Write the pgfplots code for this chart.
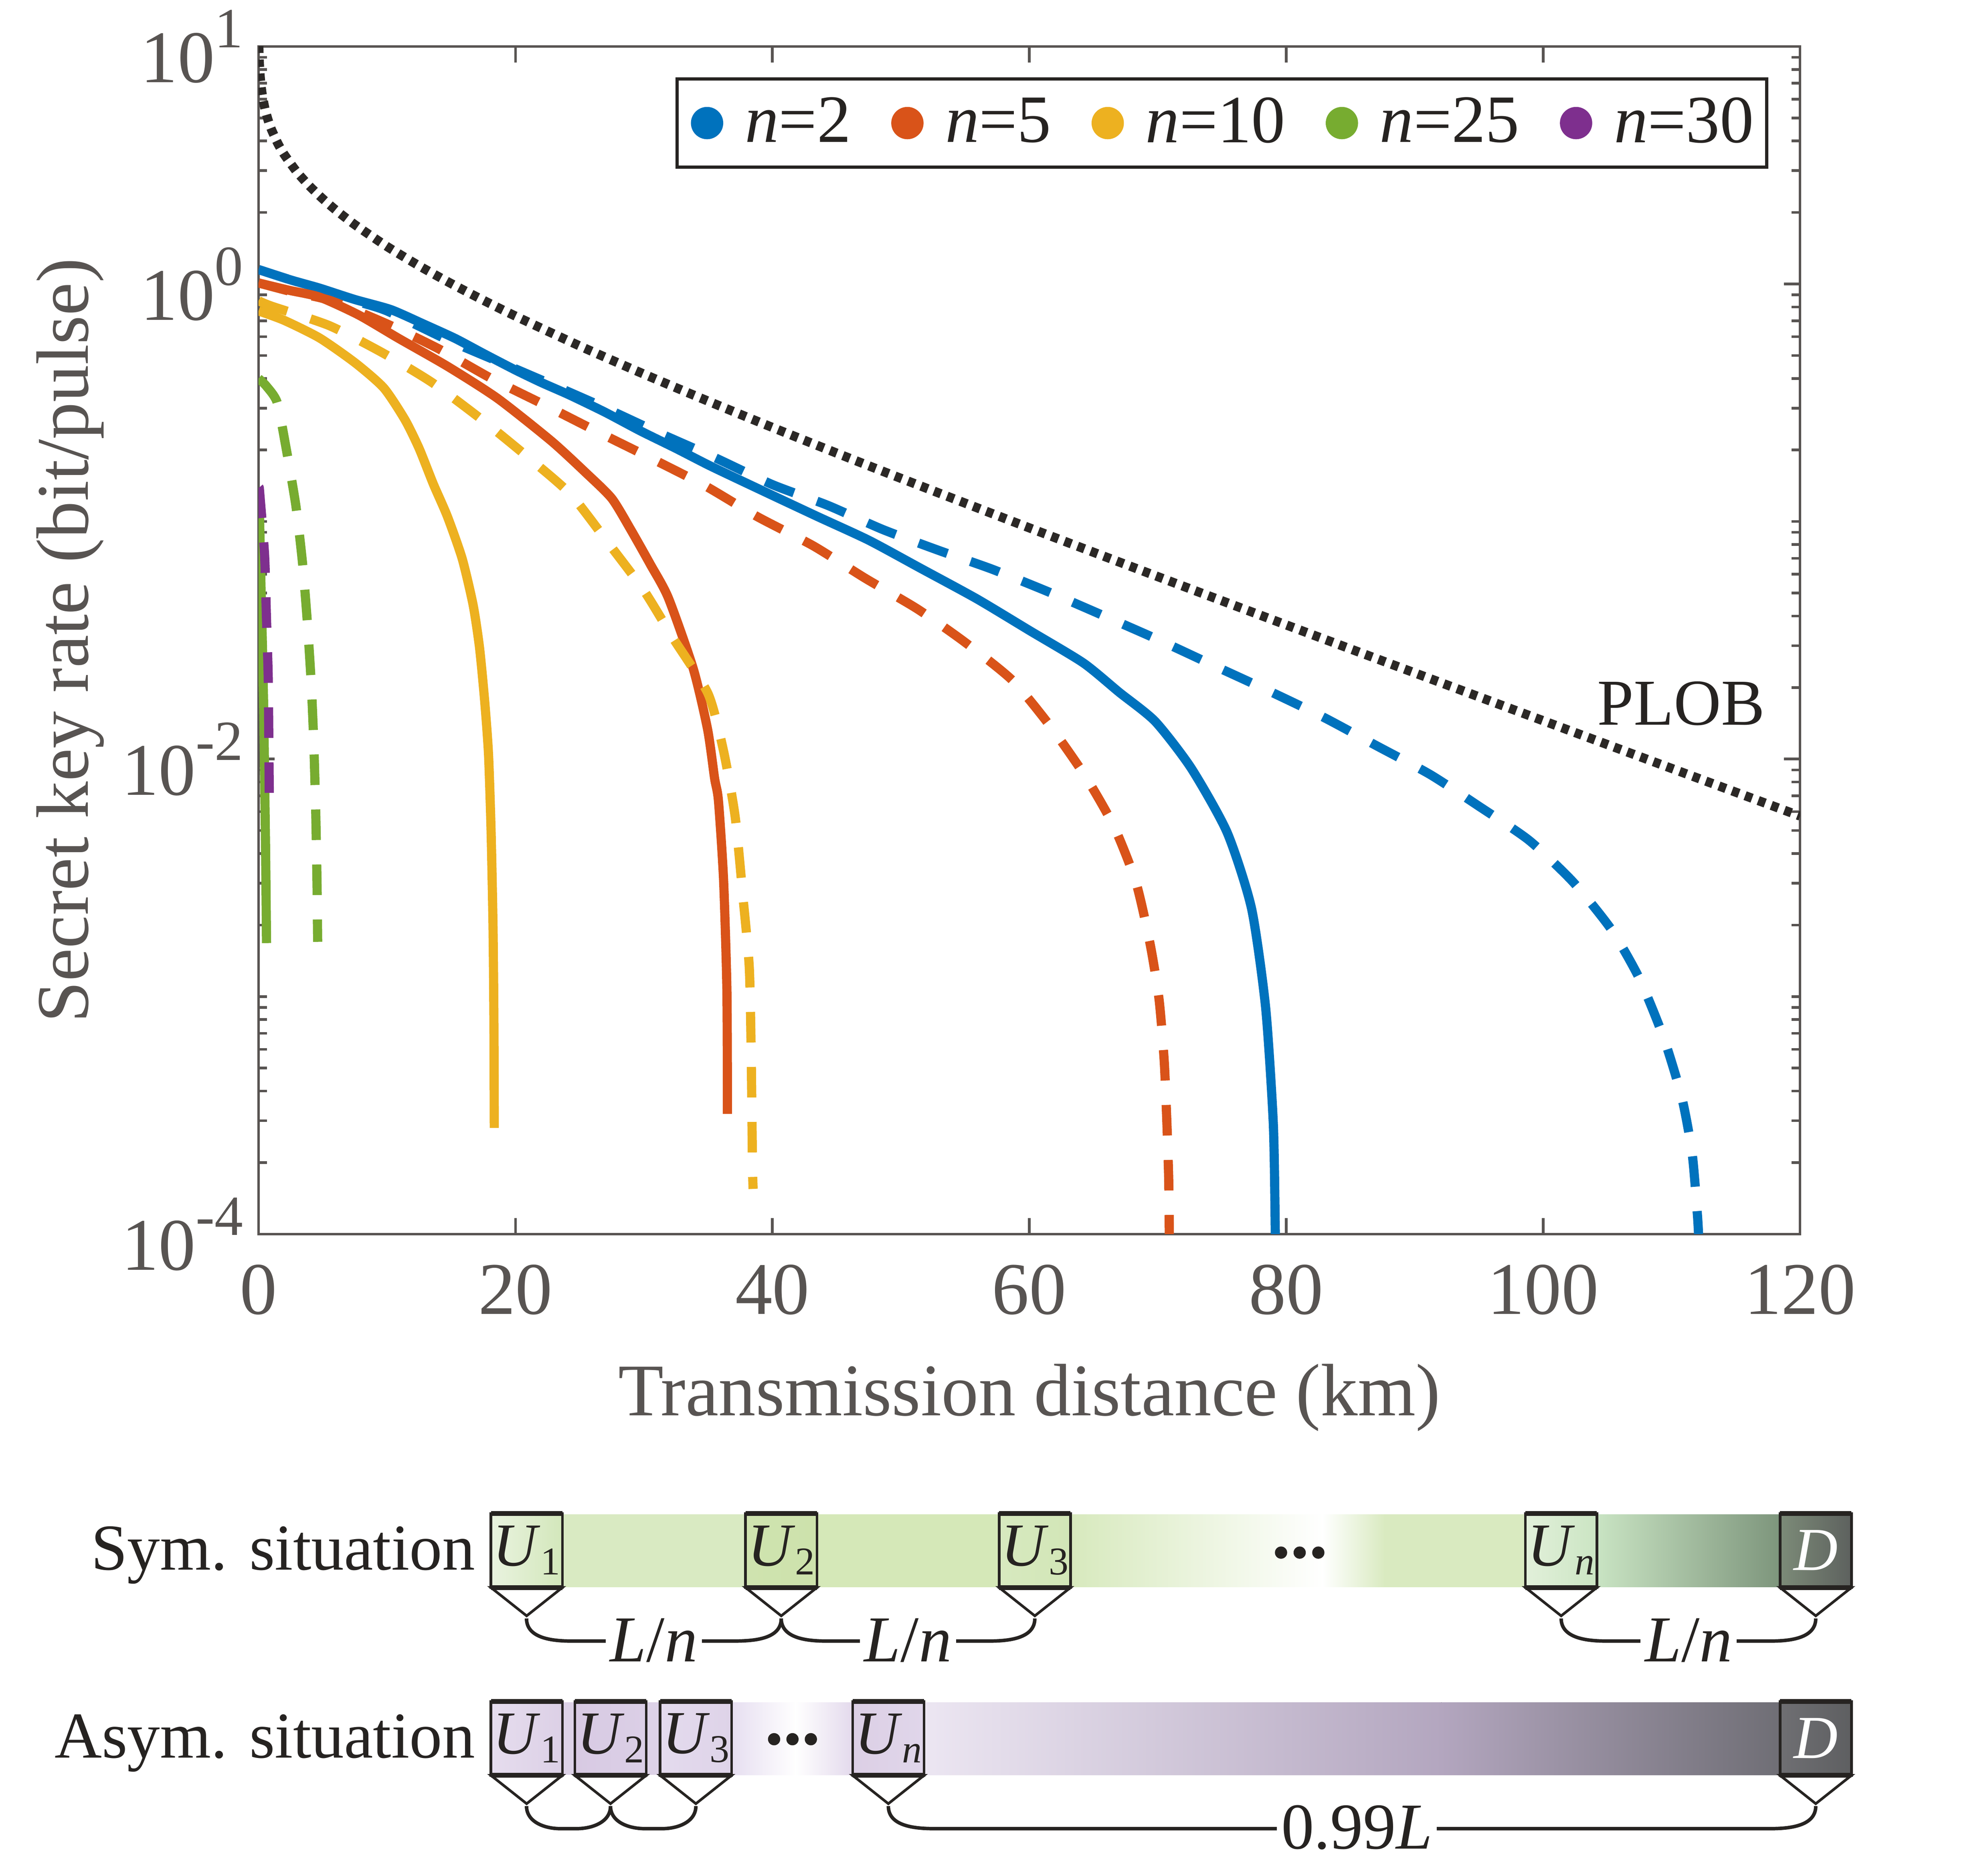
\documentclass[border=0pt]{standalone}
\usepackage{fontspec}
\setmainfont{Liberation Serif}
\usepackage{pgfplots}
\pgfplotsset{compat=1.18}
\newcommand{\fs}[1]{\fontsize{#1}{#1}\selectfont}
\definecolor{mlblue}{RGB}{0,114,189}
\definecolor{mlred}{RGB}{217,83,25}
\definecolor{mlyellow}{RGB}{237,177,32}
\definecolor{mlgreen}{RGB}{119,172,48}
\definecolor{mlpurple}{RGB}{126,47,142}
\definecolor{plobc}{RGB}{43,40,38}
\definecolor{axgray}{RGB}{88,84,82}
\definecolor{txtdark}{RGB}{38,35,33}
% diagram box: left x, bottom y, left colour, right colour, label, label colour
\newcommand{\ubox}[6]{%
  \fill[left color=#3, right color=#4] (#1,#2) rectangle ++(0.575,0.595);
  \draw[line width=0.6pt, txtdark] (#1,#2) rectangle ++(0.575,0.595);
  \draw[line width=1.1pt, txtdark] (#1,#2+0.595) -- ++(0.575,0);
  \draw[line width=0.6pt, txtdark, fill=white, line join=miter] (#1,#2) -- ++(0.575,0) -- ++(-0.2875,-0.228) -- cycle;
  \draw[line width=1.1pt, txtdark] (#1,#2) -- ++(0.575,0);
  \node[font=\fs{14}, text=#6, inner sep=0pt] at (#1+0.2875,#2+0.30) {#5};
}
\newcommand{\Us}[1]{\textit{U}\raisebox{-2pt}{\fs{9}#1}}
\pgfplotsset{
  curve/.style={line width=2.1pt, smooth, tension=0.4, line join=round, forget plot},
  dashcurve/.style={curve, dash pattern=on 7pt off 5.6pt},
}
\begin{document}
\begin{tikzpicture}
\useasboundingbox (0,0) rectangle (16,14.948);
\begin{axis}[
  at={(2.081cm,5.014cm)}, anchor=south west,
  scale only axis, width=12.406cm, height=9.56cm,
  xmin=0, xmax=120, ymin=1e-4, ymax=10, ymode=log,
  axis line style={axgray, line width=0.6pt},
  every tick/.style={axgray, line width=0.6pt},
  major tick length=3.7pt, minor tick length=1.9pt,
  tick align=inside,
  xtick={0,20,40,60,80,100,120},
  xticklabels={0,20,40,60,80,100,120},
  ytick={1e-4,1e-2,1,10},
  yticklabels={10\raisebox{8pt}{\fs{13}-4},10\raisebox{8pt}{\fs{13}-2},10\raisebox{8pt}{\fs{13}0},10\raisebox{8pt}{\fs{13}1}},
  minor ytick={2e-4,3e-4,4e-4,5e-4,6e-4,7e-4,8e-4,9e-4,1e-3,2e-3,3e-3,4e-3,5e-3,6e-3,7e-3,8e-3,9e-3,2e-2,3e-2,4e-2,5e-2,6e-2,7e-2,8e-2,9e-2,1e-1,2e-1,3e-1,4e-1,5e-1,6e-1,7e-1,8e-1,9e-1,2,3,4,5,6,7,8,9},
  tick label style={font=\fs{17}, text=axgray},
  xticklabel style={yshift=-3.5pt},
  xlabel={Transmission distance (km)},
  ylabel={Secret key rate (bit/pulse)},
  label style={font=\fs{17}, text=axgray},
  xlabel style={at={(axis description cs:0.5,-0.1377)}, anchor=center},
  ylabel style={at={(axis description cs:-0.1222,0.5)}, anchor=center},
  legend columns=5,
  legend style={at={(0.9795,0.974)}, anchor=north east, draw=txtdark, line width=0.75pt,
    fill=white, font=\fs{15.5}, text=txtdark, inner xsep=2pt, inner ysep=2pt,
    nodes={inner xsep=1pt, inner ysep=2.2pt},
    /tikz/every even column/.append style={column sep=0.25cm}},
  legend image code/.code={\fill[#1, draw=none] (0.17cm,0cm) circle (3.7pt); \path[draw=none, fill=none] (0cm,0cm) -- (0.44cm,0cm);},
]
\addlegendimage{mlblue}\addlegendentry{\textit{n}=2}
\addlegendimage{mlred}\addlegendentry{\textit{n}=5}
\addlegendimage{mlyellow}\addlegendentry{\textit{n}=10}
\addlegendimage{mlgreen}\addlegendentry{\textit{n}=25}
\addlegendimage{mlpurple}\addlegendentry{\textit{n}=30}

% PLOB bound
\addplot[plobc, curve, dash pattern=on 1.7pt off 1.5pt] table {
x y
0.02 10.08
0.05 8.76
0.1 7.766
0.2 6.769
0.3 6.188
0.5 5.457
0.75 4.881
1 4.474
1.5 3.905
2 3.507
3 2.954
4 2.572
5 2.282
6 2.050
7.5 1.776
10 1.438
12.5 1.192
15 1.0034
17.5 0.8539
20 0.7324
25 0.5484
30 0.4173
35 0.3211
40 0.2489
45 0.1941
50 0.1520
60 0.09403
70 0.05861
80 0.03670
90 0.02305
100 0.01450
110 0.009131
120 0.005755
};

% n=2 asym (dashed)
\addplot[mlblue, dashcurve] table {
x y
0 1.15
2.5 1.04
5 0.95
7.5 0.85
10 0.77
14.7 0.582
18.6 0.473
22.8 0.378
26.9 0.302
31.1 0.237
35.5 0.186
40 0.143
44.3 0.117
48.6 0.0925
53 0.0754
57.1 0.0630
61.55 0.0504
65.84 0.0400
70.2 0.0315
74.4 0.0247
78.7 0.0193
82.9 0.0150
87.0 0.0114
91.2 0.00861
95.0 0.00633
98.9 0.00455
102.3 0.00305
105.3 0.00192
107.5 0.00119
109.4 0.000667
110.8 0.000375
111.6 0.000219
112.0 0.000123
112.1 0.0001
};
% n=2 sym (solid)
\addplot[mlblue, curve] table {
x y
0 1.15
2.5 1.04
4.76 0.96
7.5 0.86
10.3 0.78
12.8 0.68
15.3 0.59
17.5 0.51
20 0.434
22 0.385
24.2 0.341
27 0.288
29.7 0.241
32.5 0.203
35.2 0.171
39.2 0.135
43.5 0.105
47.5 0.0834
51.5 0.0637
55.9 0.0473
60 0.0348
64.2 0.0254
67 0.0191
69.8 0.0144
72.6 0.00916
75.4 0.00491
77.3 0.00235
78.4 0.000897
79.0 0.000288
79.15 0.0001
};

% n=5 asym (dashed)
\addplot[mlred, dashcurve] table {
x y
0 1.01
2.5 0.93
5.6 0.851
10 0.679
14 0.534
18.2 0.398
22.4 0.307
26.5 0.237
30.7 0.183
34.8 0.141
38.8 0.105
43.2 0.0789
47.2 0.0578
51.3 0.0428
55.0 0.0310
58.7 0.0214
61.7 0.0136
64.4 0.0084
66.6 0.00519
68.3 0.00303
69.4 0.00167
70.1 0.000975
70.5 0.000538
70.7 0.000305
70.85 0.000173
70.9 0.0001
};
% n=5 sym (solid)
\addplot[mlred, curve] table {
x y
0 1.01
2.4 0.94
4.76 0.88
7.8 0.74
10.86 0.592
14.74 0.449
18.6 0.330
22.8 0.218
25.5 0.160
27.5 0.125
29.0 0.0919
30.5 0.066
31.9 0.0477
33.85 0.0239
34.96 0.0133
35.5 0.0083
35.8 0.00668
36.2 0.0031
36.46 0.00106
36.5 0.000321
};

% n=10 asym (dashed)
\addplot[mlyellow, dashcurve] table {
x y
0 0.85
1.0 0.807
5.5 0.668
9.6 0.515
13.5 0.385
17.4 0.268
21.0 0.186
24.3 0.130
27.2 0.0815
30.0 0.0512
32.3 0.0321
35.0 0.0188
36.2 0.0108
37.1 0.00573
37.7 0.00266
38.2 0.00133
38.35 0.000571
38.45 0.000195
38.5 0.000155
};
% n=10 sym (solid)
\addplot[mlyellow, curve] table {
x y
0 0.77
1.99 0.703
4.76 0.592
7.53 0.465
9.75 0.365
11.4 0.268
12.5 0.203
13.6 0.144
14.7 0.105
15.85 0.0698
16.7 0.0446
17.2 0.0295
17.6 0.0176
17.9 0.0105
18.1 0.005
18.25 0.002
18.32 0.0008
18.35 0.00028
};

% n=25 asym (dashed)
\addplot[mlgreen, dashcurve] table {
x y
0 0.40
0.6 0.372
1.44 0.318
2.1 0.21
2.9 0.117
3.43 0.0662
3.8 0.0375
4.1 0.0208
4.3 0.0116
4.45 0.006
4.55 0.003
4.6 0.0017
};
% n=25 sym (solid)
\addplot[mlgreen, curve] table {
x y
0.05 0.125
0.12 0.08
0.2 0.05
0.3 0.03
0.4 0.016
0.47 0.0083
0.55 0.004
0.62 0.00168
};

% n=30 asym (dashed)
\addplot[mlpurple, dashcurve] table {
x y
0.05 0.139
0.1 0.13
0.47 0.072
0.61 0.040
0.75 0.0223
0.8 0.0116
0.85 0.0057
};

\node[font=\fs{15}, text=txtdark] at (axis cs:110.75,0.0171) {PLOB};
\end{axis}

% ---------------- schematic ----------------
% Sym. row bar
\fill[color={rgb,255:red,217;green,234;blue,194}] (4.52,2.172) rectangle (6.0,2.757);
\fill[color={rgb,255:red,213;green,232;blue,184}] (6.57,2.172) rectangle (8.04,2.757);
\fill[left color={rgb,255:red,215;green,233;blue,189}, right color=white] (8.61,2.172) rectangle (10.65,2.757);
\fill[left color=white, right color={rgb,255:red,217;green,234;blue,192}] (10.64,2.172) rectangle (11.15,2.757);
\fill[color={rgb,255:red,217;green,234;blue,192}] (11.14,2.172) rectangle (12.28,2.757);
\fill[left color={rgb,255:red,201;green,228;blue,195}, right color={rgb,255:red,125;green,149;blue,124}] (12.85,2.172) rectangle (14.33,2.757);
\ubox{3.951}{2.169}{{rgb,255:red,233;green,243;blue,223}}{{rgb,255:red,211;green,231;blue,187}}{\Us{1}}{txtdark}
\ubox{6.0}{2.169}{{rgb,255:red,207;green,227;blue,175}}{{rgb,255:red,205;green,226;blue,172}}{\Us{2}}{txtdark}
\ubox{8.041}{2.169}{{rgb,255:red,215;green,233;blue,191}}{{rgb,255:red,210;green,230;blue,183}}{\Us{3}}{txtdark}
\ubox{12.277}{2.169}{{rgb,255:red,226;green,240;blue,218}}{{rgb,255:red,203;green,229;blue,195}}{\Us{\textit{n}}}{txtdark}
\ubox{14.326}{2.169}{{rgb,255:red,124;green,139;blue,120}}{{rgb,255:red,93;green,97;blue,94}}{\textit{D}}{white}
\fill[txtdark] (10.31,2.45) circle (1.4pt) (10.46,2.45) circle (1.4pt) (10.61,2.45) circle (1.4pt);
\node[anchor=base east, font=\fs{15}, text=txtdark, inner sep=0pt] at (3.83,2.311) {Sym. situation};
% Sym. braces
\begin{scope}[line width=0.8pt, txtdark]
\draw (4.2375,1.92) to[out=-90,in=180] (4.60,1.738) -- (5.90,1.738) to[out=0,in=-90] (6.2875,1.92);
\draw (6.2875,1.92) to[out=-90,in=180] (6.65,1.738) -- (7.96,1.738) to[out=0,in=-90] (8.3285,1.92);
\draw (12.5645,1.92) to[out=-90,in=180] (12.93,1.738) -- (14.25,1.738) to[out=0,in=-90] (14.6135,1.92);
\end{scope}
\node[fill=white, inner xsep=1pt, inner ysep=0pt, font=\fs{15}, text=txtdark] at (5.262,1.745) {\textit{L}/\textit{n}};
\node[fill=white, inner xsep=1pt, inner ysep=0pt, font=\fs{15}, text=txtdark] at (7.307,1.745) {\textit{L}/\textit{n}};
\node[fill=white, inner xsep=1pt, inner ysep=0pt, font=\fs{15}, text=txtdark] at (13.59,1.745) {\textit{L}/\textit{n}};

% Asym. row bar
\fill[color={rgb,255:red,221;green,210;blue,231}] (4.52,0.66) rectangle (4.63,1.245);
\fill[color={rgb,255:red,221;green,210;blue,231}] (5.20,0.66) rectangle (5.32,1.245);
\fill[left color={rgb,255:red,230;green,222;blue,240}, right color=white] (5.88,0.66) rectangle (6.41,1.245);
\fill[left color=white, right color={rgb,255:red,227;green,217;blue,236}] (6.40,0.66) rectangle (6.87,1.245);
\fill[left color={rgb,255:red,236;green,230;blue,242}, right color={rgb,255:red,179;green,166;blue,191}] (7.43,0.66) rectangle (11.61,1.245);
\fill[left color={rgb,255:red,179;green,166;blue,191}, right color={rgb,255:red,111;green,110;blue,117}] (11.60,0.66) rectangle (14.33,1.245);
\ubox{3.951}{0.657}{{rgb,255:red,230;green,221;blue,238}}{{rgb,255:red,220;green,208;blue,230}}{\Us{1}}{txtdark}
\ubox{4.626}{0.657}{{rgb,255:red,216;green,202;blue,227}}{{rgb,255:red,219;green,207;blue,230}}{\Us{2}}{txtdark}
\ubox{5.313}{0.657}{{rgb,255:red,228;green,219;blue,238}}{{rgb,255:red,222;green,211;blue,232}}{\Us{3}}{txtdark}
\ubox{6.862}{0.657}{{rgb,255:red,220;green,207;blue,229}}{{rgb,255:red,224;green,214;blue,234}}{\Us{\textit{n}}}{txtdark}
\ubox{14.326}{0.657}{{rgb,255:red,111;green,111;blue,115}}{{rgb,255:red,94;green,95;blue,97}}{\textit{D}}{white}
\fill[txtdark] (6.23,0.948) circle (1.4pt) (6.378,0.948) circle (1.4pt) (6.526,0.948) circle (1.4pt);
\node[anchor=base east, font=\fs{15}, text=txtdark, inner sep=0pt] at (3.83,0.799) {Asym. situation};
\begin{scope}[line width=0.8pt, txtdark]
\draw (4.2375,0.41) to[out=-90,in=180] (4.51,0.228) -- (4.64,0.228) to[out=0,in=-90] (4.9135,0.41);
\draw (4.9135,0.41) to[out=-90,in=180] (5.19,0.228) -- (5.33,0.228) to[out=0,in=-90] (5.6005,0.41);
\draw (7.1495,0.41) to[out=-90,in=180] (7.52,0.228) -- (14.25,0.228) to[out=0,in=-90] (14.6135,0.41);
\end{scope}
\node[fill=white, inner xsep=1pt, inner ysep=0pt, font=\fs{15}, text=txtdark] at (10.92,0.238) {0.99\textit{L}};
\end{tikzpicture}
\end{document}
